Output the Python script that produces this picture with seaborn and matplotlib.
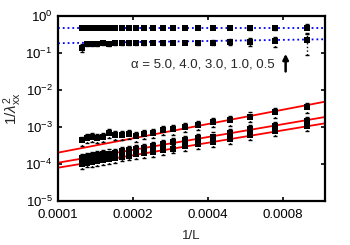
import numpy as np
import pandas as pd
import matplotlib
matplotlib.use('Agg')
import matplotlib.pyplot as plt
import seaborn as sns

sns.set_theme(style='ticks')
plt.rcParams['font.family'] = ['Liberation Sans', 'DejaVu Sans']
plt.rcParams['mathtext.fontset'] = 'custom'
plt.rcParams['mathtext.rm'] = 'Liberation Sans'
plt.rcParams['mathtext.it'] = 'Liberation Sans:italic'

# ── data ───────────────────────────────────────────────────
L_vals = [1000, 1350, 1700, 2050, 2400, 2750, 3100, 3450, 3800, 4150, 4500,
          4850, 5200, 5550, 5900, 6250, 6600, 6950, 7300, 7650, 8000]

inv_lam_05 = [0.47, 0.47, 0.46, 0.47, 0.46, 0.47, 0.47, 0.46, 0.47, 0.47, 0.46,
              0.47, 0.46, 0.47, 0.47, 0.46, 0.47, 0.46, 0.47, 0.46, 0.46]
inv_lam_10 = [0.22, 0.21, 0.20, 0.20, 0.19, 0.19, 0.19, 0.19, 0.18, 0.19, 0.18,
              0.18, 0.18, 0.18, 0.18, 0.17, 0.18, 0.17, 0.17, 0.17, 0.14]
inv_lam_30 = [3.5e-3, 2.5e-3, 1.9e-3, 1.55e-3, 1.38e-3, 1.13e-3, 1.02e-3, 8.6e-4,
              8.2e-4, 7.0e-4, 6.6e-4, 5.6e-4, 6.4e-4, 6.2e-4, 6.0e-4, 6.8e-4,
              5.3e-4, 5.0e-4, 5.4e-4, 5.1e-4, 4.3e-4]
inv_lam_40 = [1.45e-3, 1.05e-3, 8.6e-4, 6.9e-4, 5.5e-4, 4.9e-4, 4.3e-4, 3.8e-4,
              3.4e-4, 3.1e-4, 2.7e-4, 2.5e-4, 2.35e-4, 2.2e-4, 2.0e-4, 1.9e-4,
              1.8e-4, 1.7e-4, 1.6e-4, 1.5e-4, 1.45e-4]
inv_lam_50 = [1.05e-3, 7.6e-4, 5.9e-4, 4.7e-4, 3.9e-4, 3.4e-4, 3.0e-4, 2.6e-4,
              2.35e-4, 2.1e-4, 1.95e-4, 1.8e-4, 1.65e-4, 1.55e-4, 1.45e-4, 1.35e-4,
              1.27e-4, 1.2e-4, 1.13e-4, 1.08e-4, 1.0e-4]

# relative error bars
rel_err_05 = [0.3, 0.1, 0.08, 0.06, 0.05, 0.05, 0.04, 0.04, 0.04, 0.04, 0.04,
              0.04, 0.04, 0.04, 0.04, 0.04, 0.04, 0.04, 0.04, 0.04, 0.04]
rel_err_10 = [0.6, 0.3, 0.25, 0.2, 0.15, 0.12, 0.1, 0.08, 0.08, 0.07, 0.07,
              0.07, 0.07, 0.07, 0.07, 0.07, 0.07, 0.07, 0.07, 0.07, 0.25]
rel_err_30 = [0.3, 0.3, 0.3, 0.3, 0.28, 0.28, 0.28, 0.28, 0.28, 0.28, 0.28,
              0.28, 0.28, 0.28, 0.28, 0.28, 0.28, 0.28, 0.28, 0.28, 0.28]
rel_err_40 = [0.3] * 21
rel_err_50 = [0.25] * 21

# fits: value at 1/L = 1e-4 and power-law exponent
fit_v0 = [0.474, 0.183, 2.02e-4, 1.08e-4, 7.9e-5]
fit_exp = [0.0, 0.10, 1.285, 1.152, 1.12]
fit_color = ['blue', 'blue', 'red', 'red', 'red']
fit_style = [':', ':', '-', '-', '-']

series = {'0.5': (inv_lam_05, rel_err_05), '1.0': (inv_lam_10, rel_err_10),
          '3.0': (inv_lam_30, rel_err_30), '4.0': (inv_lam_40, rel_err_40),
          '5.0': (inv_lam_50, rel_err_50)}

rows = []
for a, (vals, errs) in series.items():
    for L, v, e in zip(L_vals, vals, errs):
        rows.append({'alpha': a, 'invL': 1.0 / L, 'val': v, 'err': e * v})
df = pd.DataFrame(rows)

# ── plot ────────────────────────────────────────────────────
fig = plt.figure(figsize=(3.5, 2.45), dpi=100)
ax = fig.add_axes([0.166, 0.180, 0.763, 0.755])
ax.set_xscale('log')
ax.set_yscale('log')
xmin, xmax = 1e-4, 1.18e-3

for c, ls, v0, b in zip(fit_color, fit_style, fit_v0, fit_exp):
    xx = np.geomspace(xmin, xmax, 50)
    ax.plot(xx, v0 * (xx / 1e-4) ** b, color=c, ls=ls, lw=1.3, zorder=1)

eb = ax.errorbar(df['invL'], df['val'], yerr=df['err'], fmt='none',
                 ecolor='black', elinewidth=1.0, capsize=1.5, capthick=1.0, zorder=2)
eb[2][0].set_linestyle(':')

sns.scatterplot(data=df, x='invL', y='val', marker='s', s=22, color='black',
                edgecolor='black', linewidth=0, legend=False, ax=ax, zorder=3)

ax.set_xlim(xmin, xmax)
ax.set_ylim(1e-5, 1)
ax.set_xticks([0.0001, 0.0002, 0.0004, 0.0008])
ax.set_xticklabels(['0.0001', '0.0002', '0.0004', '0.0008'])
ax.xaxis.set_minor_locator(matplotlib.ticker.NullLocator())
ax.set_yticks([1e-5, 1e-4, 1e-3, 1e-2, 1e-1, 1])
ax.yaxis.set_minor_locator(matplotlib.ticker.NullLocator())
ax.tick_params(which='major', direction='in', top=True, right=True, length=3,
               width=1.2, labelsize=9.5, colors='black')
ax.tick_params(axis='x', pad=6)
ax.tick_params(axis='y', pad=4)
for s in ax.spines.values():
    s.set_linewidth(1.6)
    s.set_color('black')

ax.set_xlabel('1/L', fontsize=9.5, labelpad=6)
ax.set_ylabel(r'$1/\lambda^2_{\rm xx}$', fontsize=11, labelpad=1)

ax.text(0.273, 0.735, 'α = 5.0, 4.0, 3.0, 1.0, 0.5', transform=ax.transAxes,
        fontsize=9.5, ha='left', va='center')
ax.annotate('', xy=(0.852, 0.81), xytext=(0.852, 0.685), xycoords='axes fraction',
            arrowprops=dict(arrowstyle='-|>', lw=1.8, color='black',
                            mutation_scale=8))

fig.savefig('out.png', dpi=100)
